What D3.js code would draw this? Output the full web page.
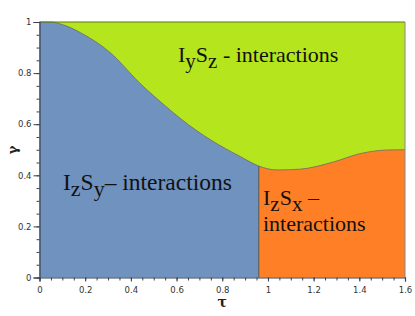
<!DOCTYPE html>
<html>
<head>
<meta charset="utf-8">
<script src="https://cdn.jsdelivr.net/npm/d3@7"></script>
<style>
  body { margin: 0; background: #fff; }
  svg { display: block; }
  .tick text { font-family: "DejaVu Sans", Verdana, sans-serif; font-size: 8.5px; fill: #333; }
</style>
</head>
<body>
<svg id="chart" width="415" height="316"></svg>
<script>
// boundary between the upper (IySz) region and the lower ones
const tau = [0, 0.05, 0.1, 0.18, 0.31, 0.44, 0.55, 0.62, 0.75, 0.88, 0.96, 1.04, 1.14, 1.29, 1.40, 1.52, 1.6];
const gamma = [1, 1, 0.99, 0.958, 0.88, 0.76, 0.672, 0.62, 0.538, 0.473, 0.436, 0.421, 0.424, 0.453, 0.484, 0.499, 0.5];
// vertical split between IzSy and IzSx
const tauSplit = 0.96;
const xTicks = [0, 0.2, 0.4, 0.6, 0.8, 1, 1.2, 1.4, 1.6];
const yTicks = [0, 0.2, 0.4, 0.6, 0.8, 1];
const xTickLabels = ["0", "0.2", "0.4", "0.6", "0.8", "1", "1.2", "1.4", "1.6"];
const yTickLabels = ["0", "0.2", "0.4", "0.6", "0.8", "1"];

const serif = "'Liberation Serif', 'Times New Roman', serif";

const svg = d3.select("#chart");
const x = d3.scaleLinear().domain([0, 1.6]).range([39.5, 405]);
const y = d3.scaleLinear().domain([0, 1]).range([277.5, 22]);

const pts = tau.map((t, i) => ({ t: t, g: gamma[i] }));
const left = pts.filter(p => p.t <= tauSplit);
const right = pts.filter(p => p.t >= tauSplit);

const area = d3.area().curve(d3.curveMonotoneX)
  .x(d => x(d.t)).y0(y(0)).y1(d => y(d.g));
const line = d3.line().curve(d3.curveMonotoneX)
  .x(d => x(d.t)).y(d => y(d.g));

// green fills the whole plot, the others sit on top
svg.append("rect")
  .attr("x", x(0)).attr("y", y(1))
  .attr("width", x(1.6) - x(0)).attr("height", y(0) - y(1))
  .attr("fill", "#b5e61d");

svg.append("path").datum(left).attr("d", area).attr("fill", "#7092be");
svg.append("path").datum(right).attr("d", area).attr("fill", "#ff7f27");

svg.append("path").datum(pts).attr("d", line)
  .attr("fill", "none").attr("stroke", "#6b6b6b").attr("stroke-width", 0.8);

svg.append("line")
  .attr("x1", x(tauSplit)).attr("x2", x(tauSplit))
  .attr("y1", y(0)).attr("y2", y(0.436))
  .attr("stroke", "#4a5566").attr("stroke-width", 1);

// frame: top and right
svg.append("line")
  .attr("x1", x(0)).attr("x2", x(1.6)).attr("y1", y(1)).attr("y2", y(1))
  .attr("stroke", "#5e7a12").attr("stroke-width", 1.2);
svg.append("line")
  .attr("x1", x(1.6)).attr("x2", x(1.6)).attr("y1", y(1)).attr("y2", y(0))
  .attr("stroke", "#888").attr("stroke-width", 1);

// minor ticks
const xMinor = d3.range(0, 1.6001, 0.05);
const yMinor = d3.range(0, 1.0001, 0.05);
svg.append("g").attr("transform", `translate(0,${y(0)})`)
  .call(d3.axisBottom(x).tickValues(xMinor).tickSize(3).tickFormat(""))
  .call(g => g.select(".domain").remove())
  .selectAll("line").attr("stroke", "#3a4250");
svg.append("g").attr("transform", `translate(${x(0)},0)`)
  .call(d3.axisLeft(y).tickValues(yMinor).tickSize(3).tickFormat(""))
  .call(g => g.select(".domain").remove())
  .selectAll("line").attr("stroke", "#3a4250");

// major axes
const xAxis = svg.append("g").attr("transform", `translate(0,${y(0)})`)
  .call(d3.axisBottom(x).tickValues(xTicks).tickSizeOuter(0).tickSize(4).tickPadding(5)
    .tickFormat((d, i) => xTickLabels[i]));
const yAxis = svg.append("g").attr("transform", `translate(${x(0)},0)`)
  .call(d3.axisLeft(y).tickValues(yTicks).tickSizeOuter(0).tickSize(6).tickPadding(2)
    .tickFormat((d, i) => yTickLabels[i]));
[xAxis, yAxis].forEach(a => {
  a.select(".domain").attr("stroke", "#3a4250").attr("stroke-width", 1.2);
  a.selectAll(".tick line").attr("stroke", "#3a4250");
});

// axis titles
svg.append("text")
  .attr("x", (x(0) + x(1.6)) / 2).attr("y", 307)
  .attr("text-anchor", "middle")
  .attr("font-family", "DejaVu Serif, serif").attr("font-size", 14).attr("font-weight", "bold")
  .attr("fill", "#222")
  .text("τ");
svg.append("text")
  .attr("transform", "translate(17,150) rotate(-90)")
  .attr("text-anchor", "middle")
  .attr("font-family", "DejaVu Serif, serif").attr("font-size", 13).attr("font-weight", "bold")
  .attr("fill", "#222")
  .text("γ");

// region labels
function label(px, py, size, parts) {
  const t = svg.append("text")
    .attr("x", px).attr("y", py)
    .attr("font-family", serif).attr("font-size", size).attr("fill", "#111");
  parts.forEach(p => {
    const s = t.append("tspan").attr("dy", p[1]).text(p[0]);
    if (p[2]) s.attr("font-size", p[2]);
  });
  return t;
}
label(178, 62, 22, [["I", 0], ["y", 6, 21], ["S", -6], ["z", 6, 21], [" - interactions", -6]]);
label(63, 190, 23.5, [["I", 0], ["z", 6, 22], ["S", -6], ["y", 6, 22], ["– ", -6], ["interactions", 0]]);
label(263, 205, 22, [["I", 0], ["z", 6, 21], ["S", -6], ["x", 6, 21], [" –", -6]]);
label(263, 231, 22, [["interactions", 0]]);
</script>
</body>
</html>
